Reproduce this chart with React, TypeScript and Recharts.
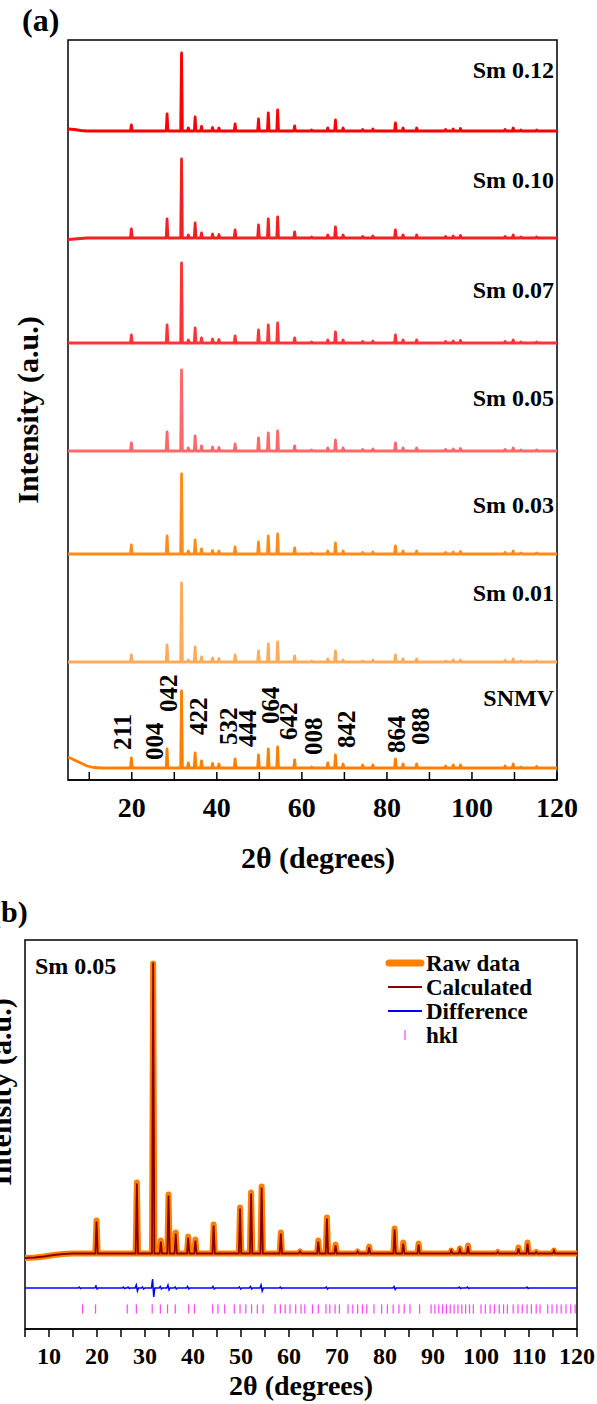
import React from 'react';
import { LineChart, ComposedChart, Line, Scatter, XAxis, YAxis, ReferenceArea, ReferenceDot } from 'recharts';

const FONT = '"Liberation Serif", "Times New Roman", serif';

// ---------- panel (a): stacked XRD patterns ----------
const peakPos = [19.9, 28.3, 31.7, 33.3, 34.9, 36.4, 39.0, 40.5, 44.3, 49.8, 52.1, 54.3, 58.3, 62.3, 66.1, 67.9, 69.7, 74.3, 76.7, 82.0, 83.8, 87.0, 93.8, 95.6, 97.3, 107.8, 109.7, 111.5, 115.2];

const samples = ['Sm 0.12', 'Sm 0.10', 'Sm 0.07', 'Sm 0.05', 'Sm 0.03', 'Sm 0.01', 'SNMV'];
const sampleColors = ['#ff0000', '#f42020', '#ff3434', '#ff6868', '#ff8c1a', '#ffab5c', '#ff8000'];
const sampleOffsets = [649, 542, 437, 329, 226, 118, 12];
const sampleLabelY = [710, 600, 490, 382, 275, 187, 82];

// low-angle background, one value per startX
const startX = [5, 6.5, 8, 9.5, 11, 13];
const startBg = [
  [2, 1.5, 0.5, 0, 0, 0],
  [-1.5, -1, -0.5, 0, 0, 0],
  [0, 0, 0, 0, 0, 0],
  [0, 0, 0, 0, 0, 0],
  [0, 0, 0, 0, 0, 0],
  [0, 0, 0, 0, 0, 0],
  [11, 8, 5, 2, 0.5, 0],
];

const heights = [
  [6, 17, 78, 3, 14, 4.5, 3.5, 3, 7, 12, 18, 21, 5, 1, 3, 11, 3, 1.5, 2, 8, 3, 3, 1.5, 2, 2.5, 1.5, 3, 1, 1],
  [9, 19, 79, 3, 15, 5, 4, 3.5, 8, 13, 19, 21, 6, 1, 3, 11, 3, 1.5, 2, 8, 3, 3, 1.5, 2, 2.5, 1.5, 3, 1, 1],
  [8, 18, 80, 3, 15, 5, 4, 3.5, 7, 13, 18, 20, 5, 1, 3, 11, 3, 1.5, 2, 8, 3, 3, 1.5, 2, 2.5, 1.5, 3, 1, 1],
  [8, 19, 81, 3, 15, 5, 4, 3.5, 7, 13, 18, 20, 5, 1, 3, 11, 3, 1.5, 2, 8, 3, 3, 1.5, 2, 2.5, 1.5, 3, 1, 1],
  [9, 18, 80, 3, 14, 5, 3.5, 3, 7, 12, 18, 20, 6, 1, 3, 11, 3, 1.5, 2, 8, 3, 3, 1.5, 2, 2.5, 1.5, 3, 1, 1],
  [7, 17, 79, 2, 15, 5, 4, 3.5, 7, 11, 18, 20, 6, 1, 3, 11, 2, 1, 2, 7, 3, 3, 1, 2, 2, 1.5, 3, 1, 1],
  [10, 19, 77, 5, 15, 7, 4.5, 4, 9, 13, 19, 21, 8, 1, 5, 13, 4, 3, 3, 9, 4, 4, 2, 3, 3, 2, 4, 1, 1.5],
];

const hklLabels = ['211', '004', '042', '422', '532', '444', '064', '642', '008', '842', '864', '088'];
const hklLabelX = [17.8, 25.4, 28.7, 35.8, 42.8, 47.2, 52.7, 56.9, 62.8, 70.5, 82.3, 88.0];
const hklLabelY = [30, 20, 68, 45, 35, 33, 56, 40, 25, 32, 27, 35];

const ticksA = [10, 20, 30, 40, 50, 60, 70, 80, 90, 100, 110, 120];

// ---------- panel (b): Rietveld refinement of Sm 0.05 ----------
const refPeakPos = [19.9, 28.3, 31.7, 33.3, 34.9, 36.4, 39.0, 40.5, 44.3, 49.8, 52.1, 54.3, 58.3, 62.3, 66.1, 67.9, 69.7, 74.3, 76.7, 82.0, 83.8, 87.0, 93.8, 95.6, 97.3, 103.5, 107.8, 109.7, 111.5, 115.2];
const rawHeights = [33, 71, 290, 13, 59, 21, 17, 14, 29, 46, 61, 67, 21, 2, 13, 36, 9, 2, 7, 25, 11, 10, 3, 5, 8, 1.5, 6, 11, 1.5, 3];
const calcHeights = [32, 70, 291, 12, 58, 20, 16, 13, 28, 45, 60, 66, 20, 2, 12, 35, 8, 2, 6, 24, 10, 9, 3, 4, 7, 1.5, 5, 10, 1.5, 3];
const rawBgX = [5, 7, 9, 11, 13, 15];
const rawBgY = [71, 71.5, 72.5, 74, 75, 75.5];
const rawBase = 75.5;

const diffBase = 41;
const diffPos = [16.4, 19.9, 25.6, 26.6, 28.3, 29.6, 31.7, 33.3, 34.9, 36.4, 39.0, 44.3, 49.8, 52.1, 54.3, 58.3, 67.9, 82.0, 95.6, 97.3, 109.7];
const diffUp = [1, 2, 1, 1, 3, 1, 9, 1.5, 3, 1, 1.5, 1.5, 1, 1.5, 3, 1, 1, 1.5, 1, 1, 1];
const diffDown = [0.5, 1, 0.5, 0.5, 3, 1, 9, 1, 2, 1, 1, 1, 1, 1, 3, 0.5, 1, 1.5, 0.5, 0.5, 0.5];

const hklPos = [17.0, 19.7, 26.3, 28.2, 31.5, 33.2, 34.7, 36.3, 39.1, 40.3, 44.1, 45.2, 46.6, 48.6, 49.8, 51.0, 52.2, 53.4, 54.6, 57.1, 58.2, 59.2, 60.2, 61.4, 62.5, 63.3, 64.9, 66.1, 67.7, 68.5, 69.6, 70.5, 72.3, 73.3, 74.3, 75.3, 76.2, 77.7, 79.3, 80.5, 81.7, 82.9, 84.0, 85.2, 87.2, 89.6, 90.4, 91.2, 92.0, 92.8, 93.6, 94.4, 95.2, 96.0, 96.8, 97.6, 98.4, 100.0, 100.9, 101.9, 102.8, 103.8, 104.7, 105.5, 106.7, 107.7, 108.6, 109.6, 110.5, 111.5, 112.3, 113.9, 114.8, 115.8, 116.7, 117.7, 118.7, 119.6];
const hklRow = 20;

const ticksB = [5, 10, 15, 20, 25, 30, 35, 40, 45, 50, 55, 60, 65, 70, 75, 80, 85, 90, 95, 100, 105, 110, 115, 120];

const legendNames = ['Raw data', 'Calculated', 'Difference', 'hkl'];
const legendY = [963, 987, 1011, 1035];

// ---------- helpers ----------
type Pt = { x: number; y: number };

function buildPattern(bgX: number[], bgY: number[], base: number, pos: number[], h: number[], hw: number): Pt[] {
  const pts: Pt[] = bgX.map((x, i) => ({ x, y: bgY[i] }));
  pos.forEach((p, i) => {
    pts.push({ x: p - hw, y: base }, { x: p, y: base + h[i] }, { x: p + hw, y: base });
  });
  pts.push({ x: 120, y: base });
  return pts.sort((a, b) => a.x - b.x);
}

const tracesA = samples.map((_, s) =>
  buildPattern(startX, startBg[s].map((v) => sampleOffsets[s] + v), sampleOffsets[s], peakPos, heights[s], 0.2)
);

const rawData = buildPattern(rawBgX, rawBgY, rawBase, refPeakPos, rawHeights, 0.25);
const calcData = buildPattern(rawBgX, rawBgY, rawBase, refPeakPos, calcHeights, 0.25);

const diffData: Pt[] = [{ x: 5, y: diffBase }];
diffPos.forEach((p, i) => {
  diffData.push(
    { x: p - 0.35, y: diffBase },
    { x: p - 0.12, y: diffBase + diffUp[i] },
    { x: p + 0.12, y: diffBase - diffDown[i] },
    { x: p + 0.35, y: diffBase }
  );
});
diffData.push({ x: 120, y: diffBase });

const hklData = hklPos.map((x) => ({ x, y: hklRow }));

const tickA = { fontSize: 28, fontWeight: 'bold', fill: '#000', fontFamily: FONT };
const tickB = { fontSize: 24, fontWeight: 'bold', fill: '#000', fontFamily: FONT };
const lineStyle = { stroke: '#000', strokeWidth: 1.5 };

export default function App() {
  return (
    <div style={{ position: 'absolute', left: 0, top: 0, width: 597, height: 1404, background: '#fff', overflow: 'hidden' }}>
      <div style={{ position: 'absolute', left: 0, top: 0 }}>
        <LineChart width={597} height={880} margin={{ top: 40, right: 40, bottom: 0, left: 68 }}>
          <XAxis
            dataKey="x"
            type="number"
            domain={[5, 120]}
            ticks={ticksA}
            interval={0}
            allowDataOverflow
            height={100}
            tickSize={-8}
            tickMargin={25}
            tickFormatter={(v: number) => (v % 20 === 0 ? String(v) : '')}
            tick={tickA}
            tickLine={lineStyle}
            axisLine={lineStyle}
          />
          <YAxis hide type="number" domain={[0, 740]} allowDataOverflow />
          <ReferenceArea x1={5} x2={120} y1={0} y2={740} fill="none" stroke="#000" strokeWidth={1.5} ifOverflow="visible" />
          {tracesA.map((d, s) => (
            <Line
              key={samples[s]}
              data={d}
              dataKey="y"
              type="linear"
              stroke={sampleColors[s]}
              strokeWidth={2.8}
              strokeLinejoin="round"
              dot={false}
              isAnimationActive={false}
            />
          ))}
          {samples.map((name, s) => (
            <ReferenceDot
              key={'lab' + s}
              x={120}
              y={sampleLabelY[s]}
              ifOverflow="visible"
              shape={(p: any) => (
                <text x={p.cx - 3} y={p.cy} textAnchor="end" dominantBaseline="central" fontFamily={FONT} fontWeight="bold" fontSize={24} fill="#000">
                  {name}
                </text>
              )}
            />
          ))}
          {hklLabels.map((lab, i) => (
            <ReferenceDot
              key={'hkl' + i}
              x={hklLabelX[i]}
              y={hklLabelY[i]}
              ifOverflow="visible"
              shape={(p: any) => (
                <text
                  x={p.cx}
                  y={p.cy}
                  transform={`rotate(-90 ${p.cx} ${p.cy})`}
                  textAnchor="start"
                  dominantBaseline="central"
                  fontFamily={FONT}
                  fontWeight="bold"
                  fontSize={25}
                  fill="#000"
                >
                  {lab}
                </text>
              )}
            />
          ))}
        </LineChart>
      </div>

      <div style={{ position: 'absolute', left: 0, top: 880 }}>
        <ComposedChart width={597} height={524} margin={{ top: 60, right: 20, bottom: 0, left: 25 }}>
          <XAxis
            dataKey="x"
            type="number"
            domain={[5, 120]}
            ticks={ticksB}
            interval={0}
            allowDataOverflow
            height={75}
            tickSize={8}
            tickMargin={10}
            tickFormatter={(v: number) => (v % 10 === 0 ? String(v) : '')}
            tick={tickB}
            tickLine={lineStyle}
            axisLine={lineStyle}
          />
          <YAxis hide type="number" domain={[0, 389]} allowDataOverflow />
          <ReferenceArea x1={5} x2={120} y1={0} y2={389} fill="none" stroke="#000" strokeWidth={1.5} ifOverflow="visible" />
          <Line data={rawData} dataKey="y" type="linear" stroke="#ff8000" strokeWidth={6} strokeLinejoin="round" strokeLinecap="round" dot={false} isAnimationActive={false} />
          <Line data={calcData} dataKey="y" type="linear" stroke="#8b0000" strokeWidth={1.8} dot={false} isAnimationActive={false} />
          <Line data={diffData} dataKey="y" type="linear" stroke="#0000ff" strokeWidth={1.5} dot={false} isAnimationActive={false} />
          <Scatter
            data={hklData}
            dataKey="y"
            isAnimationActive={false}
            shape={(p: any) => <line x1={p.cx} x2={p.cx} y1={p.cy - 4.5} y2={p.cy + 4.5} stroke="#ff40ff" strokeWidth={1.2} />}
          />
        </ComposedChart>
      </div>

      <svg width={597} height={1404} style={{ position: 'absolute', left: 0, top: 0, pointerEvents: 'none' }} fontFamily={FONT} fontWeight="bold" fill="#000">
        <text x={22} y={31} fontSize={32}>(a)</text>
        <text x={27} y={410} fontSize={30} textAnchor="middle" dominantBaseline="central" transform="rotate(-90 27 410)">Intensity (a.u.)</text>
        <text x={318} y={857} fontSize={30} textAnchor="middle" dominantBaseline="central">2θ (degrees)</text>

        <text x={-9} y={922} fontSize={30}>(b)</text>
        <text x={0} y={1092} fontSize={30} textAnchor="middle" dominantBaseline="central" transform="rotate(-90 0 1092)">Intensity (a.u.)</text>
        <text x={301} y={1385} fontSize={28} textAnchor="middle" dominantBaseline="central">2θ (degrees)</text>
        <text x={35} y={966} fontSize={24} dominantBaseline="central">Sm 0.05</text>

        <line x1={389} x2={421} y1={legendY[0]} y2={legendY[0]} stroke="#ff8000" strokeWidth={7} strokeLinecap="round" />
        <line x1={388} x2={422} y1={legendY[1]} y2={legendY[1]} stroke="#8b0000" strokeWidth={2} />
        <line x1={388} x2={422} y1={legendY[2]} y2={legendY[2]} stroke="#0000ff" strokeWidth={2} />
        <line x1={405} x2={405} y1={legendY[3] - 5} y2={legendY[3] + 5} stroke="#ff40ff" strokeWidth={1.2} />
        {legendNames.map((n, i) => (
          <text key={n} x={426} y={legendY[i]} fontSize={23} dominantBaseline="central">{n}</text>
        ))}
      </svg>
    </div>
  );
}
